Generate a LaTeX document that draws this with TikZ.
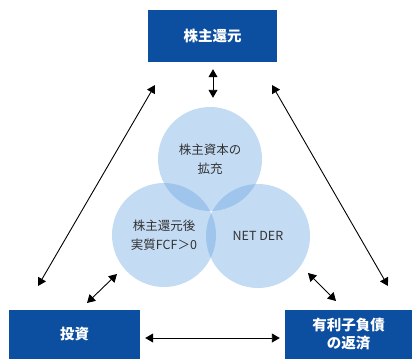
\documentclass[tikz,border=0pt]{standalone}
\usepackage{fontspec}
\setmainfont{Noto Sans CJK JP}
\usepackage{xcolor}
\usetikzlibrary{arrows.meta,positioning}

\definecolor{boxblue}{RGB}{12,78,160}
\definecolor{circblue}{RGB}{105,165,225}

\begin{document}
\begin{tikzpicture}[
    x=1pt, y=-1pt,
    policy/.style={
        rectangle, fill=boxblue, text=white,
        inner sep=0pt, align=center,
        font=\fontsize{14.5}{18}\selectfont\bfseries
    },
    goal/.style={
        circle, fill=circblue, fill opacity=0.4, text opacity=1,
        minimum size=104pt, inner sep=0pt, align=center,
        text=black!80, font=\fontsize{12.5}{19}\selectfont
    },
    arrow/.style={{Triangle[length=8pt,width=9pt]}-{Triangle[length=8pt,width=9pt]}, line width=0.9pt}
]
\useasboundingbox (0,0) rectangle (412,359);

% Top: shareholder return
\node[policy, minimum width=129pt, minimum height=52pt] (ret) at (212.5,36) {株主還元};

% Middle: three goals
\node[goal] (equity) at (210,159) {株主資本の\\拡充};
\node[goal] (fcf) at (164,235) {株主還元後\\実質FCF＞0};
\node[goal] (der) at (258,236) {NET DER};

% Bottom: investment and debt
\node[policy, minimum width=131pt, minimum height=49pt] (invest) at (74.5,334.5) {投資};
\node[policy, minimum width=127pt, minimum height=49pt] (debt) at (348.5,334.5) {有利子負債\\の返済};

% Arrow ends
\coordinate (lbot) at (38,286);
\coordinate (ltop) at (155,85);
\coordinate (rtop) at (272,85);
\coordinate (rbot) at (388,286);
\coordinate (lsa) at (87,303);
\coordinate (lsb) at (117,274);
\coordinate (rsa) at (308,273);
\coordinate (rsb) at (336,301);

% Arrows
\draw[arrow, shorten <=7pt, shorten >=9pt] (ret.south -| 213,0) -- (equity.north -| 213,0);
\draw[arrow] (lbot) -- (ltop);
\draw[arrow] (rtop) -- (rbot);
\draw[arrow] (lsa) -- (lsb);
\draw[arrow] (rsa) -- (rsb);
\draw[arrow, shorten <=5pt, shorten >=5pt] ([yshift=-3.5pt]invest.east) -- ([yshift=-3.5pt]debt.west);

\end{tikzpicture}
\end{document}
